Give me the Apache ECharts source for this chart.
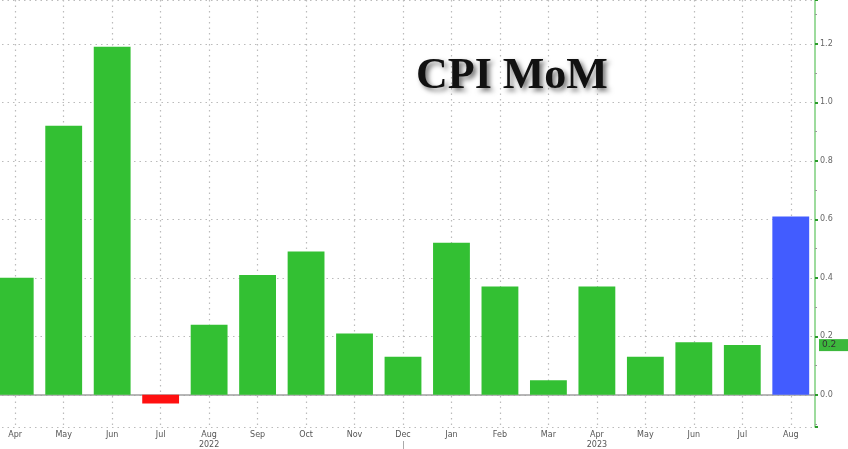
<!DOCTYPE html>
<html>
<head>
<meta charset="utf-8">
<script src="https://cdn.jsdelivr.net/npm/echarts@6/dist/echarts.min.js"></script>
<style>html,body{margin:0;padding:0;background:#fff}#c{width:848px;height:449px}</style>
</head>
<body>
<div id="c"></div>
<script>
var months = ['Apr','May','Jun','Jul','Aug','Sep','Oct','Nov','Dec','Jan','Feb','Mar','Apr','May','Jun','Jul','Aug'];
var yearLabels = ['','','','','2022','','','','','','','','2023','','','',''];
var cpiMoM = [0.40,0.92,1.19,-0.03,0.24,0.41,0.49,0.21,0.13,0.52,0.37,0.05,0.37,0.13,0.18,0.17,0.61];
var lastTagValue = 0.17;
var lastTagText = '0.2';

var chart = echarts.init(document.getElementById('c'));
chart.setOption({
  animation: false,
  backgroundColor: '#fff',
  title: {
    text: 'CPI MoM',
    left: 411, top: 50,
    textStyle: {
      fontFamily: 'Liberation Serif', fontWeight: 'bold', fontSize: 44, color: '#111',
      textShadowColor: 'rgba(0,0,0,0.55)', textShadowBlur: 5, textShadowOffsetX: 3, textShadowOffsetY: 3
    }
  },
  grid: { left: -9, right: 33, top: 0, bottom: 22, containLabel: false, outerBoundsMode: 'none' },
  xAxis: [{
    type: 'category', data: months, position: 'bottom',
    axisLine: { lineStyle: { color: '#a0a0a0', width: 1.5 } },
    axisTick: { alignWithLabel: true, length: 3, lineStyle: { color: '#999' } },
    axisLabel: { fontSize: 8, color: '#555', margin: 4, interval: 0, fontFamily: 'DejaVu Sans' },
    splitLine: { show: true, alignWithLabel: true, lineStyle: { color: '#bbb', type: [1.5, 4], width: 1.2 } }
  }, {
    type: 'category', data: yearLabels, position: 'bottom', offset: 14,
    axisLine: { show: false },
    axisTick: { show: true, alignWithLabel: true, length: 11, interval: function (i) { return i === 8; }, lineStyle: { color: '#aaa' } },
    axisLabel: { fontSize: 8, color: '#555', margin: 0, interval: 0, fontFamily: 'DejaVu Sans' },
    splitLine: { show: false }
  }],
  yAxis: {
    type: 'value', position: 'right', min: -0.11, max: 1.35, splitNumber: 7,
    axisLine: { show: true, lineStyle: { color: '#7ccf7c', width: 1.5 } },
    axisTick: { show: true, length: 3, lineStyle: { color: '#2a9a2a', width: 2 } },
    minorTick: { show: true, splitNumber: 2, length: 2, lineStyle: { color: '#999' } },
    axisLabel: { fontSize: 8, color: '#666', margin: 5, showMinLabel: false, showMaxLabel: false, fontFamily: 'DejaVu Sans',
      formatter: function (v) { return v.toFixed(1); } },
    splitLine: { show: true, lineStyle: { color: '#bbb', type: [1.5, 4], width: 1.2 } }
  },
  series: [{
    type: 'bar', data: cpiMoM, barCategoryGap: '24%',
    itemStyle: {
      color: function (p) {
        if (p.value < 0) return '#ff1010';
        if (p.dataIndex === cpiMoM.length - 1) return '#425cff';
        return '#33c033';
      }
    },
    markLine: {
      silent: true, symbol: 'none',
      lineStyle: { color: 'rgba(0,0,0,0)', width: 0 },
      label: {
        show: true, position: 'end', formatter: lastTagText, backgroundColor: '#3cb83c', color: '#333',
        fontSize: 9, padding: [2, 14, 1, 3], distance: 4, fontFamily: 'DejaVu Sans', opacity: 1
      },
      data: [{ yAxis: lastTagValue }]
    }
  }]
});
</script>
</body>
</html>
